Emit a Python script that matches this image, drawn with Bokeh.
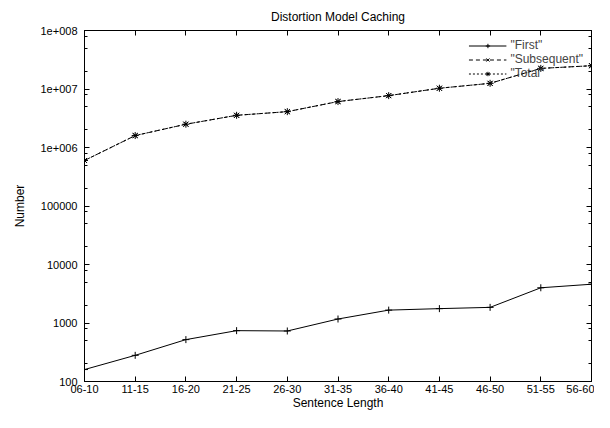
import numpy as np
from bokeh.plotting import figure
from bokeh.models import (FixedTicker, LogAxis, LinearAxis, Range1d, Legend, LegendItem)
from bokeh.embed import file_html
from bokeh.resources import INLINE

categories = ["06-10", "11-15", "16-20", "21-25", "26-30", "31-35",
              "36-40", "41-45", "46-50", "51-55", "56-60"]
first = [160, 280, 520, 740, 730, 1170, 1660, 1760, 1850, 4000, 4600]
subsequent = [600000, 1600000, 2500000, 3550000, 4100000, 6100000,
              7700000, 10300000, 12500000, 22500000, 25000000]
total = [f + s for f, s in zip(first, subsequent)]

y_major = [100, 1000, 10000, 100000, 1000000, 10000000, 100000000]
y_labels = ["100", "1000", "10000", "100000", "1e+006", "1e+007", "1e+008"]
y_minor = [m * d for d in y_major[:-1] for m in (2, 5, 8)]

FONT = "Liberation Sans"
xs = list(range(len(categories)))

p = figure(width=594, height=412, output_backend="svg", toolbar_location=None,
           y_axis_type="log", x_range=Range1d(0, len(categories) - 1),
           y_range=Range1d(100, 100000000),
           title="Distortion Model Caching",
           min_border_left=84, min_border_right=3, min_border_top=5,
           min_border_bottom=5)
p.title.align = "center"
p.title.text_font = FONT
p.title.text_font_size = "12px"
p.title.text_font_style = "normal"
p.title.text_color = "black"
p.title.standoff = 14
p.xgrid.visible = False
p.ygrid.visible = False
p.outline_line_color = "black"
p.background_fill_color = "white"
p.border_fill_color = "white"

xticker = FixedTicker(ticks=xs)
yticker = FixedTicker(ticks=y_major, minor_ticks=y_minor)

def style(ax, labels=True):
    ax.axis_line_color = "black"
    ax.major_tick_in = 5
    ax.major_tick_out = 0
    ax.minor_tick_in = 3
    ax.minor_tick_out = 0
    ax.major_tick_line_color = "black"
    ax.minor_tick_line_color = "black"
    ax.major_label_text_font = FONT
    ax.major_label_text_font_size = "11px"
    ax.major_label_text_color = "black"
    ax.axis_label_text_font = FONT
    ax.axis_label_text_font_size = "12px"
    ax.axis_label_text_font_style = "normal"
    ax.axis_label_text_color = "black"
    if not labels:
        ax.major_label_text_font_size = "0px"
        ax.major_label_text_alpha = 0

xa = p.xaxis[0]
xa.ticker = xticker
xa.major_label_overrides = {i: c for i, c in enumerate(categories)}
xa.axis_label = "Sentence Length"
xa.major_label_standoff = 3
xa.axis_label_standoff = 0
style(xa)
xa.minor_tick_in = 0

ya = p.yaxis[0]
ya.ticker = yticker
ya.major_label_overrides = {v: l for v, l in zip(y_major, y_labels)}
ya.axis_label = "Number"
ya.major_label_standoff = 7
ya.axis_label_standoff = 10
style(ya)

top = LinearAxis(ticker=xticker, major_label_text_font_size="0px")
style(top, labels=False)
top.minor_tick_in = 0
top.major_label_standoff = 0
p.add_layout(top, "above")

right = LogAxis(ticker=yticker)
style(right, labels=False)
right.major_label_standoff = 0
p.add_layout(right, "right")

r1l = p.line(xs, first, line_color="black", line_width=1)
r1m = p.scatter(xs, first, marker="cross", size=7, line_color="black", line_width=1)
r2l = p.line(xs, subsequent, line_color="black", line_width=1, line_dash="4 3")
r2m = p.scatter(xs, subsequent, marker="x", size=7, line_color="black", line_width=1)
r3l = p.line(xs, total, line_color="black", line_width=1, line_dash="2 2")
r3m = p.scatter(xs, total, marker="asterisk", size=7, line_color="black", line_width=1)

legend = Legend(items=[
    LegendItem(label='"First"', renderers=[r1l, r1m]),
    LegendItem(label='"Subsequent"', renderers=[r2l, r2m]),
    LegendItem(label='"Total"', renderers=[r3l, r3m]),
], location="top_right")
legend.background_fill_alpha = 0
legend.border_line_alpha = 0
legend.label_text_font = FONT
legend.label_text_font_size = "12px"
legend.label_height = 11
legend.glyph_height = 11
legend.glyph_width = 38
legend.spacing = 0
legend.padding = 3
legend.margin = 5
legend.label_standoff = 4
p.add_layout(legend)

open("out.html", "w").write(file_html(p, INLINE))
